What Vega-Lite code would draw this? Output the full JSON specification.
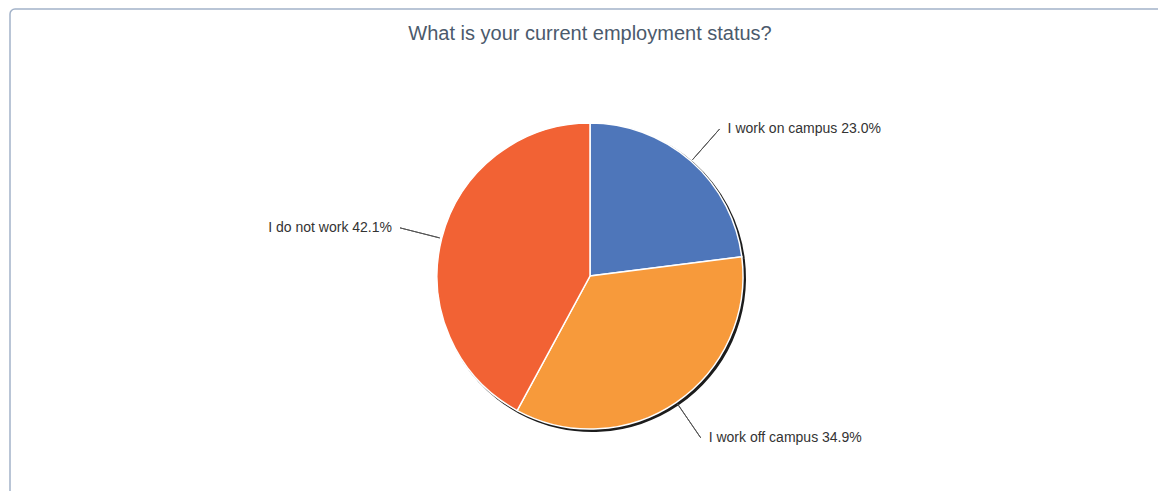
{
  "$schema": "https://vega.github.io/schema/vega-lite/v6.json",
  "autosize": {"type": "none"},
  "padding": {"left": 10, "top": 9, "right": 0, "bottom": 0},
  "width": 1160,
  "height": 534,
  "background": "white",
  "config": {
    "view": {"stroke": null}
  },
  "title": {
    "text": "What is your current employment status?",
    "font": "Liberation Sans",
    "fontSize": 20,
    "fontWeight": "normal",
    "color": "#4b5a6c",
    "anchor": "middle",
    "offset": -36
  },
  "data": {
    "values": [
      {"status": "I work on campus", "pct": 23.0, "order": 1},
      {"status": "I work off campus", "pct": 34.9, "order": 2},
      {"status": "I do not work", "pct": 42.1, "order": 3}
    ]
  },
  "transform": [
    {"calculate": "datum.status + ' ' + format(datum.pct, '.1f') + '%'", "as": "label"}
  ],
  "encoding": {
    "theta": {"field": "pct", "type": "quantitative", "stack": true},
    "order": {"field": "order", "type": "quantitative"}
  },
  "layer": [
    {
      "data": {"values": [{}]},
      "mark": {"type": "rect", "x": 0, "y": 0, "x2": {"expr": "width + 200"}, "y2": {"expr": "height + 200"}, "fill": null, "stroke": "#a3b3c9", "strokeWidth": 1.5, "cornerRadius": 5},
      "encoding": {"theta": null, "order": null}
    },
    {
      "mark": {"type": "arc", "radius": 154, "xOffset": 2, "yOffset": 2, "color": "#1c1c1c"}
    },
    {
      "mark": {"type": "arc", "radius": 153, "stroke": "white", "strokeWidth": 1.5},
      "encoding": {
        "color": {
          "field": "status",
          "type": "nominal",
          "scale": {
            "domain": ["I work on campus", "I work off campus", "I do not work"],
            "range": ["#4e76ba", "#f79a3b", "#f26234"]
          },
          "legend": null
        }
      }
    },
    {
      "mark": {"type": "arc", "radius": 196, "radius2": 155, "padAngle": 3, "filled": false, "stroke": "#555555", "strokeWidth": 1}
    },
    {
      "mark": {"type": "text", "radius": 196, "align": "left", "baseline": "middle", "dx": 8, "font": "Liberation Sans", "fontSize": 14, "color": "#333333"},
      "encoding": {
        "text": {"condition": {"test": "datum.status !== 'I do not work'", "field": "label"}, "value": ""}
      }
    },
    {
      "mark": {"type": "text", "radius": 196, "align": "right", "baseline": "middle", "dx": -8, "font": "Liberation Sans", "fontSize": 14, "color": "#333333"},
      "encoding": {
        "text": {"condition": {"test": "datum.status === 'I do not work'", "field": "label"}, "value": ""}
      }
    }
  ]
}
